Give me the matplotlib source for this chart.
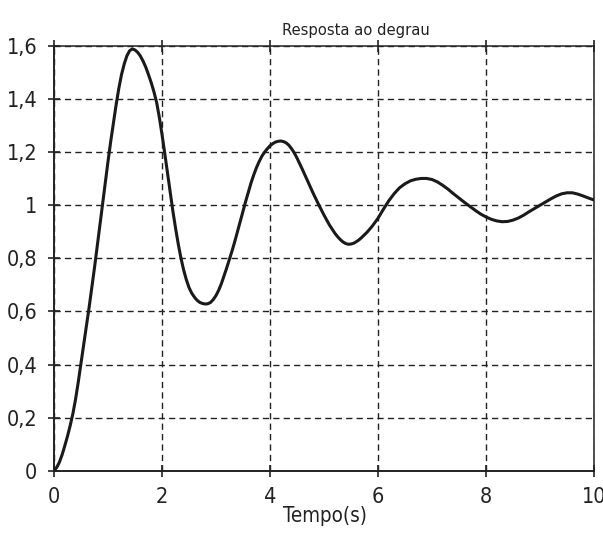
import matplotlib
matplotlib.use("Agg")
import matplotlib.pyplot as plt
from matplotlib import font_manager

# Data
t_values = [0.0, 0.05, 0.1, 0.15, 0.2, 0.25, 0.3, 0.35, 0.4, 0.45, 0.5, 0.55, 0.6, 0.65, 0.7,
            0.75, 0.8, 0.85, 0.9, 0.95, 1.0, 1.05, 1.1, 1.15, 1.2, 1.25, 1.3, 1.35, 1.4, 1.45,
            1.5, 1.55, 1.6, 1.65, 1.7, 1.75, 1.8, 1.85, 1.9, 1.95, 2.0, 2.05, 2.1, 2.15, 2.2,
            2.25, 2.3, 2.35, 2.4, 2.45, 2.5, 2.55, 2.6, 2.65, 2.7, 2.75, 2.8, 2.85, 2.9, 2.95,
            3.0, 3.05, 3.1, 3.15, 3.2, 3.25, 3.3, 3.35, 3.4, 3.45, 3.5, 3.55, 3.6, 3.65, 3.7,
            3.75, 3.8, 3.85, 3.9, 3.95, 4.0, 4.05, 4.1, 4.15, 4.2, 4.25, 4.3, 4.35, 4.4, 4.45,
            4.5, 4.6, 4.7, 4.8, 4.9, 5.0, 5.1, 5.2, 5.25, 5.3, 5.35, 5.4, 5.45, 5.5, 5.55,
            5.6, 5.65, 5.7, 5.8, 5.9, 6.0, 6.1, 6.2, 6.3, 6.4, 6.5, 6.6, 6.7, 6.8, 6.9,
            7.0, 7.1, 7.2, 7.3, 7.4, 7.5, 7.6, 7.7, 7.8, 7.9, 8.0, 8.1, 8.2, 8.3, 8.4,
            8.5, 8.6, 8.7, 8.8, 8.9, 9.0, 9.1, 9.2, 9.3, 9.4, 9.5, 9.6, 9.7, 9.8, 9.9, 10.0]
y_values = [0.0, 0.012, 0.032, 0.06, 0.094, 0.13, 0.17, 0.215, 0.27, 0.335, 0.405, 0.475, 0.545, 0.615, 0.69,
            0.765, 0.845, 0.925, 1.008, 1.088, 1.165, 1.24, 1.31, 1.378, 1.44, 1.492, 1.532, 1.563, 1.582, 1.589,
            1.585, 1.576, 1.562, 1.543, 1.52, 1.492, 1.462, 1.428, 1.388, 1.332, 1.267, 1.197, 1.124, 1.051, 0.98,
            0.915, 0.855, 0.802, 0.757, 0.72, 0.69, 0.669, 0.654, 0.642, 0.634, 0.63, 0.628, 0.629, 0.634, 0.645,
            0.66, 0.68, 0.705, 0.735, 0.765, 0.797, 0.83, 0.865, 0.902, 0.94, 0.978, 1.015, 1.05, 1.085, 1.115,
            1.142, 1.165, 1.185, 1.2, 1.213, 1.224, 1.232, 1.238, 1.241, 1.242, 1.24, 1.235, 1.226, 1.213, 1.197,
            1.178, 1.135, 1.09, 1.045, 1.003, 0.963, 0.926, 0.895, 0.882, 0.871, 0.862, 0.856, 0.853, 0.854, 0.857,
            0.863, 0.87, 0.879, 0.899, 0.923, 0.951, 0.985, 1.017, 1.044, 1.066, 1.081, 1.092, 1.098, 1.101, 1.101,
            1.097, 1.088, 1.075, 1.06, 1.043, 1.027, 1.011, 0.996, 0.981, 0.967, 0.956, 0.947, 0.941, 0.938, 0.939,
            0.944, 0.952, 0.963, 0.976, 0.988, 1.0, 1.012, 1.024, 1.035, 1.043, 1.047, 1.047, 1.042, 1.035, 1.027, 1.02]

x_ticks = [0, 2, 4, 6, 8, 10]
x_tick_labels = ["0", "2", "4", "6", "8", "10"]
y_ticks = [0, 0.2, 0.4, 0.6, 0.8, 1.0, 1.2, 1.4, 1.6]
y_tick_labels = ["0", "0,2", "0,4", "0,6", "0,8", "1", "1,2", "1,4", "1,6"]

title = "Resposta ao degrau"
xlabel = "Tempo(s)"

# look for a narrow sans font; fall back to Liberation Sans
narrow_path = None
for f in font_manager.fontManager.ttflist:
    name = f.name.lower()
    fn = f.fname.lower()
    if ("narrow" in name or "narrow" in fn or "condensed" in fn or "condensed" in name) \
            and f.weight in (400, "normal", "regular") and f.style == "normal":
        if "liberation" in fn or "arial" in fn:
            narrow_path = f.fname
            break
        if narrow_path is None:
            narrow_path = f.fname

plt.rcParams["font.family"] = ["Liberation Sans", "DejaVu Sans"]
if narrow_path:
    fp = font_manager.FontProperties(fname=narrow_path)
    tick_size, title_size, label_size = 15.5, 11.8, 14.8
else:
    fp = font_manager.FontProperties(family=["Liberation Sans", "DejaVu Sans"])
    tick_size, title_size, label_size = 14.5, 11.5, 14

fig = plt.figure(figsize=(6.03, 5.47), dpi=100)
ax = fig.add_axes([54 / 603, 1 - 470.7 / 547, 540 / 603, (470.7 - 46) / 547])

ax.plot(t_values, y_values, color="#1a1a1a", linewidth=2.2, solid_joinstyle="round",
        solid_capstyle="round", zorder=3)

ax.set_xlim(0, 10)
ax.set_ylim(0, 1.6)
ax.set_xticks(x_ticks)
ax.set_xticklabels(x_tick_labels, fontproperties=fp, fontsize=tick_size)
ax.set_yticks(y_ticks)
ax.set_yticklabels(y_tick_labels, fontproperties=fp, fontsize=tick_size)

ax.grid(True, color="#222222", linestyle=(0, (4.5, 3)), linewidth=1.0)
ax.set_axisbelow(True)

for side in ["left", "bottom"]:
    ax.spines[side].set_linewidth(1.4)
    ax.spines[side].set_color("#222222")
for side in ["top", "right"]:
    ax.spines[side].set_linewidth(1.1)
    ax.spines[side].set_color("#222222")

ax.tick_params(axis="both", direction="inout", length=8, width=1.2, color="#222222",
               labelcolor="#222222")
ax.tick_params(axis="y", pad=8)
ax.tick_params(axis="x", top=True, pad=8)

fig.text(356 / 603, 1 - 30 / 547, title, ha="center", va="center",
         fontproperties=fp, fontsize=title_size, color="#222222")
fig.text(325 / 603, 1 - 516 / 547, xlabel, ha="center", va="center",
         fontproperties=fp, fontsize=label_size, color="#222222")

fig.savefig("out.png", dpi=100)
